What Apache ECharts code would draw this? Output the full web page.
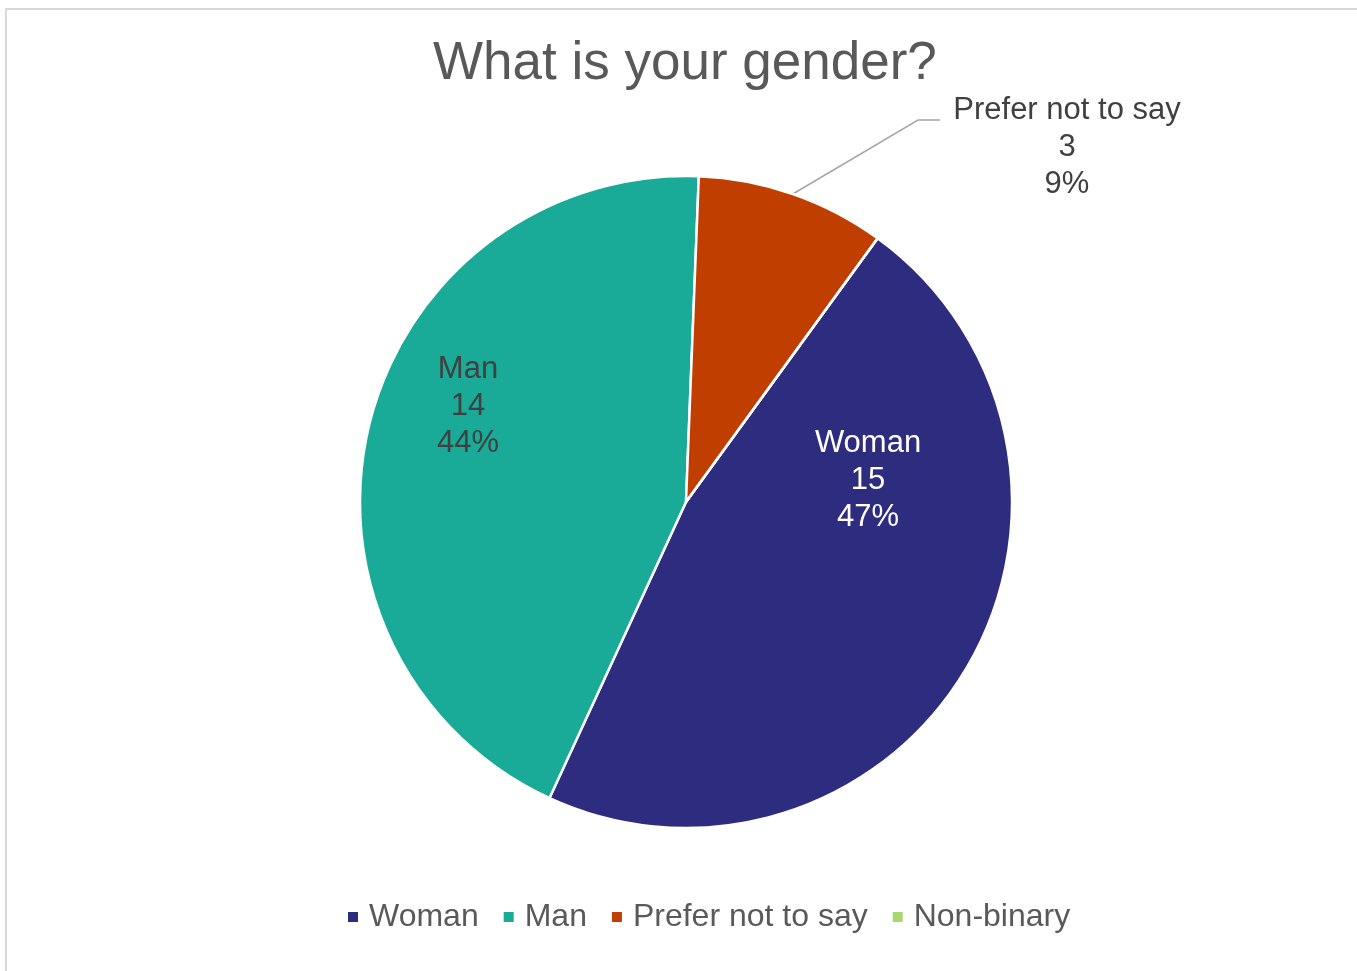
<!DOCTYPE html>
<html>
<head>
<meta charset="utf-8">
<script src="https://cdn.jsdelivr.net/npm/echarts@6/dist/echarts.min.js"></script>
<style>html,body{margin:0;padding:0;background:#fff}#c{width:1357px;height:971px}</style>
</head>
<body>
<div id="c"></div>
<script>
const categories = ['Woman', 'Man', 'Prefer not to say', 'Non-binary'];
const counts = [15, 14, 3, 0];
const colors = ['#2E2C7E', '#19AB98', '#BF3E00', '#A6D86E'];
const titleText = 'What is your gender?';

const labelColors = ['#FFFFFF', '#404040', '#404040', '#404040'];
const labelSpots = {0: [868, 480], 1: [468, 406], 2: [1067, 147]};

const chart = echarts.init(document.getElementById('c'), null, {renderer: 'canvas'});
const FONT = '"Liberation Sans", Arial, sans-serif';
chart.setOption({
  animation: false,
  backgroundColor: '#fff',
  graphic: [{
    type: 'rect', shape: {x: 6, y: 9, width: 1420, height: 1000},
    style: {fill: 'none', stroke: '#D9D9D9', lineWidth: 2}, z: -1
  }],
  title: {
    text: titleText, left: 428, top: 33,
    textStyle: {fontFamily: FONT, fontSize: 53, fontWeight: 'normal', color: '#595959'}
  },
  legend: {
    bottom: 33, left: 341,
    icon: 'rect', itemWidth: 12, itemHeight: 12, itemGap: 23,
    textStyle: {fontFamily: FONT, fontSize: 32, color: '#595959', padding: [0, 0, 0, 5]},
    data: categories
  },
  series: [{
    type: 'pie',
    center: [686, 502], radius: 326,
    startAngle: 54, clockwise: true,
    percentPrecision: 0,
    avoidLabelOverlap: false,
    itemStyle: {borderColor: '#fff', borderWidth: 2.5},
    label: {
      formatter: '{b}\n{c}\n{d}%',
      fontFamily: FONT, fontSize: 31, lineHeight: 37, align: 'center'
    },
    labelLine: {lineStyle: {color: '#A6A6A6', width: 1.5}},
    labelLayout: function (p) {
      const s = labelSpots[p.dataIndex];
      if (!s) return {};
      const r = {x: s[0], y: s[1], align: 'center', verticalAlign: 'middle'};
      if (p.dataIndex === 2 && p.labelLinePoints) {
        const pts = p.labelLinePoints;
        r.labelLinePoints = [pts[0], [918, 120], [940, 120]];
      }
      return r;
    },
    data: categories.map((n, i) => ({
      name: n, value: counts[i],
      itemStyle: {color: colors[i]},
      label: {
        show: counts[i] > 0,
        position: i === 2 ? 'outside' : 'inside',
        color: labelColors[i]
      },
      labelLine: {show: i === 2}
    }))
  }]
});
</script>
</body>
</html>
